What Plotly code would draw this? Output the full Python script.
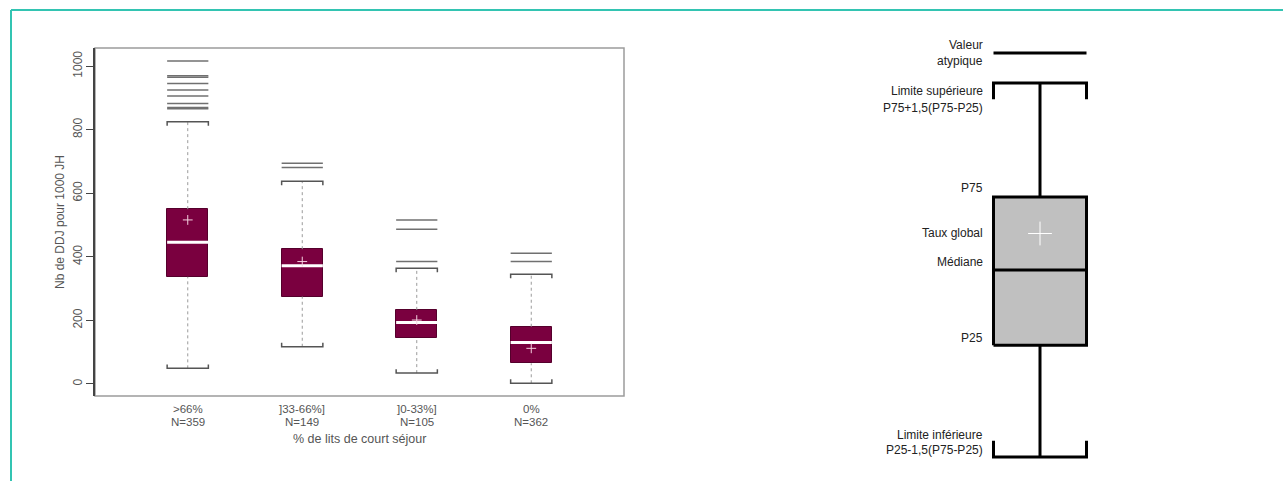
import plotly.graph_objects as go

# ---- data: rate of DDJ per 1000 JH by share of short-stay beds ----
categories = [">66%", "]33-66%]", "]0-33%]", "0%"]
n_obs = [359, 149, 105, 362]
q1 = [337, 275, 144, 65]
median = [446, 372, 193, 130]
q3 = [550, 424, 233, 180]
mean = [516, 385, 201, 112]
lower_fence = [49, 117, 34, 2]
upper_fence = [825, 638, 364, 345]
outliers = [
    [1016, 970, 965, 945, 925, 906, 882, 870, 866],
    [694, 681],
    [516, 487, 385],
    [411, 385],
]
y_ticks = [0, 200, 400, 600, 800, 1000]

# ---- schematic key (arbitrary units) ----
key_levels = {
    "outlier": 97, "upper": 90, "p75": 63.5, "mean": 55,
    "median": 46.5, "p25": 29, "lower": 3,
}
key_labels = [
    ("Valeur", 98.8),
    ("atypique", 95.1),
    ("Limite supérieure", 88.1),
    ("P75+1,5(P75-P25)", 84.1),
    ("P75", 65.6),
    ("Taux global", 55.1),
    ("Médiane", 48.4),
    ("P25", 30.7),
    ("Limite inférieure", 8.1),
    ("P25-1,5(P75-P25)", 4.6),
]

W, H = 1283, 481
MAROON = "#7A003F"
FONT = "Liberation Sans, Arial, sans-serif"
GREY_TXT = "#555555"

pos = list(range(1, len(categories) + 1))
half = 0.18
cap_tip = 12.5

fig = go.Figure()

# boxes (P25 -> P75)
fig.add_trace(go.Bar(
    x=pos, y=[b - a for a, b in zip(q1, q3)], base=q1, width=2 * half,
    marker=dict(color=MAROON, line=dict(color="#55002c", width=1)),
    xaxis="x", yaxis="y", hoverinfo="skip", showlegend=False,
))

# dotted whiskers
wx, wy = [], []
for p, lo, a, b, hi in zip(pos, lower_fence, q1, q3, upper_fence):
    wx += [p, p, None, p, p, None]
    wy += [lo, a, None, b, hi, None]
fig.add_trace(go.Scatter(x=wx, y=wy, mode="lines",
                         line=dict(color="#9a9a9a", width=1, dash="dot"),
                         hoverinfo="skip", showlegend=False))

# bracket caps
cx, cy = [], []
for p, lo, hi in zip(pos, lower_fence, upper_fence):
    cx += [p - half, p - half, p + half, p + half, None]
    cy += [hi - cap_tip, hi, hi, hi - cap_tip, None]
    cx += [p - half, p - half, p + half, p + half, None]
    cy += [lo + cap_tip, lo, lo, lo + cap_tip, None]
fig.add_trace(go.Scatter(x=cx, y=cy, mode="lines",
                         line=dict(color="#555555", width=1.5),
                         hoverinfo="skip", showlegend=False))

# outliers drawn as horizontal strokes
ox, oy = [], []
for p, vals in zip(pos, outliers):
    for v in vals:
        ox += [p - half, p + half, None]
        oy += [v, v, None]
fig.add_trace(go.Scatter(x=ox, y=oy, mode="lines",
                         line=dict(color="#707070", width=1.5),
                         hoverinfo="skip", showlegend=False))

# medians
mx, my = [], []
for p, m in zip(pos, median):
    mx += [p - half, p + half, None]
    my += [m, m, None]
fig.add_trace(go.Scatter(x=mx, y=my, mode="lines",
                         line=dict(color="white", width=3),
                         hoverinfo="skip", showlegend=False))

# means
fig.add_trace(go.Scatter(x=pos, y=mean, mode="markers",
                         marker=dict(symbol="cross-thin", size=7,
                                     line=dict(color="#f5d0e0", width=1)),
                         hoverinfo="skip", showlegend=False))

# ---- schematic key on its own hidden axes ----
kl = key_levels
kh = 0.465
tip = 3.8
kx = [-kh, kh, None,
      -kh, -kh, kh, kh, None,
      0, 0, None,
      0, 0, None,
      -kh, -kh, kh, kh, None,
      -kh, kh, None]
ky = [kl["outlier"], kl["outlier"], None,
      kl["upper"] - tip, kl["upper"], kl["upper"], kl["upper"] - tip, None,
      kl["upper"], kl["p75"], None,
      kl["p25"], kl["lower"], None,
      kl["lower"] + tip, kl["lower"], kl["lower"], kl["lower"] + tip, None,
      kl["median"], kl["median"], None]
fig.add_trace(go.Scatter(
    x=[-kh, kh, kh, -kh, -kh], y=[kl["p25"], kl["p25"], kl["p75"], kl["p75"], kl["p25"]],
    mode="lines", fill="toself", fillcolor="#c0c0c0",
    line=dict(color="black", width=3), xaxis="x2", yaxis="y2",
    hoverinfo="skip", showlegend=False))
fig.add_trace(go.Scatter(x=kx, y=ky, mode="lines",
                         line=dict(color="black", width=3),
                         xaxis="x2", yaxis="y2", hoverinfo="skip", showlegend=False))
fig.add_trace(go.Scatter(x=[0], y=[kl["mean"]], mode="markers",
                         marker=dict(symbol="cross-thin", size=17,
                                     line=dict(color="white", width=1)),
                         xaxis="x2", yaxis="y2", hoverinfo="skip", showlegend=False))

annotations = []
for txt, yv in key_labels:
    annotations.append(dict(
        x=-0.55, y=yv, xref="x2", yref="y2", text=txt, showarrow=False,
        xanchor="right", yanchor="middle", align="right",
        font=dict(family=FONT, size=12, color="#222222")))

# category labels, two lines each
for p, c, n in zip(pos, categories, n_obs):
    annotations.append(dict(
        x=p, y=1 - 409 / H, xref="x", yref="paper", text=c,
        showarrow=False, xanchor="center", yanchor="middle",
        font=dict(family=FONT, size=11.5, color=GREY_TXT)))
    annotations.append(dict(
        x=p, y=1 - 422 / H, xref="x", yref="paper", text=f"N={n}",
        showarrow=False, xanchor="center", yanchor="middle",
        font=dict(family=FONT, size=11.5, color=GREY_TXT)))

annotations.append(dict(
    x=(95 + 624) / 2 / W, y=1 - 439 / H, xref="paper", yref="paper",
    text="% de lits de court séjour", showarrow=False,
    xanchor="center", yanchor="middle",
    font=dict(family=FONT, size=12.5, color=GREY_TXT)))

x0, x1 = 95 / W, 624 / W
y0, y1 = 1 - 396 / H, 1 - 48 / H
shapes = [
    # plot frame
    dict(type="rect", xref="paper", yref="paper", x0=x0, x1=x1, y0=y0, y1=y1,
         line=dict(color="#9c9c9c", width=1.5), layer="below"),
    # page frame (top and left)
    dict(type="line", xref="paper", yref="paper", x0=11 / W, x1=1,
         y0=1 - 10 / H, y1=1 - 10 / H, line=dict(color="#33c4b2", width=2)),
    dict(type="line", xref="paper", yref="paper", x0=11 / W, x1=11 / W,
         y0=0, y1=1 - 10 / H, line=dict(color="#33c4b2", width=2)),
]

fig.update_layout(
    width=W, height=H, margin=dict(l=0, r=0, t=0, b=0),
    paper_bgcolor="white", plot_bgcolor="white",
    font=dict(family=FONT, color=GREY_TXT),
    annotations=annotations, shapes=shapes, bargap=0,
    xaxis=dict(domain=[x0, x1], range=[0.19, 4.81], tickvals=pos,
               showticklabels=False, ticks="", showgrid=False,
               zeroline=False, showline=False),
    yaxis=dict(domain=[y0, y1], range=[-38, 1057], tickvals=y_ticks,
               ticks="outside", ticklen=7, tickcolor="#444444", tickwidth=1.2,
               showline=True, linecolor="#444444", linewidth=1.8,
               showgrid=False, zeroline=False, tickangle=-90,
               tickfont=dict(size=12, color=GREY_TXT), ticklabelstandoff=-1,
               title=dict(text="Nb de DDJ pour 1000 JH", standoff=4,
                          font=dict(size=12, color=GREY_TXT))),
    xaxis2=dict(domain=[940 / W, 1140 / W], range=[-1, 1], visible=False,
                anchor="y2"),
    yaxis2=dict(domain=[1 - 470 / H, 1 - 40 / H], range=[0, 100],
                visible=False, anchor="x2"),
)

fig.write_html("out.html")
